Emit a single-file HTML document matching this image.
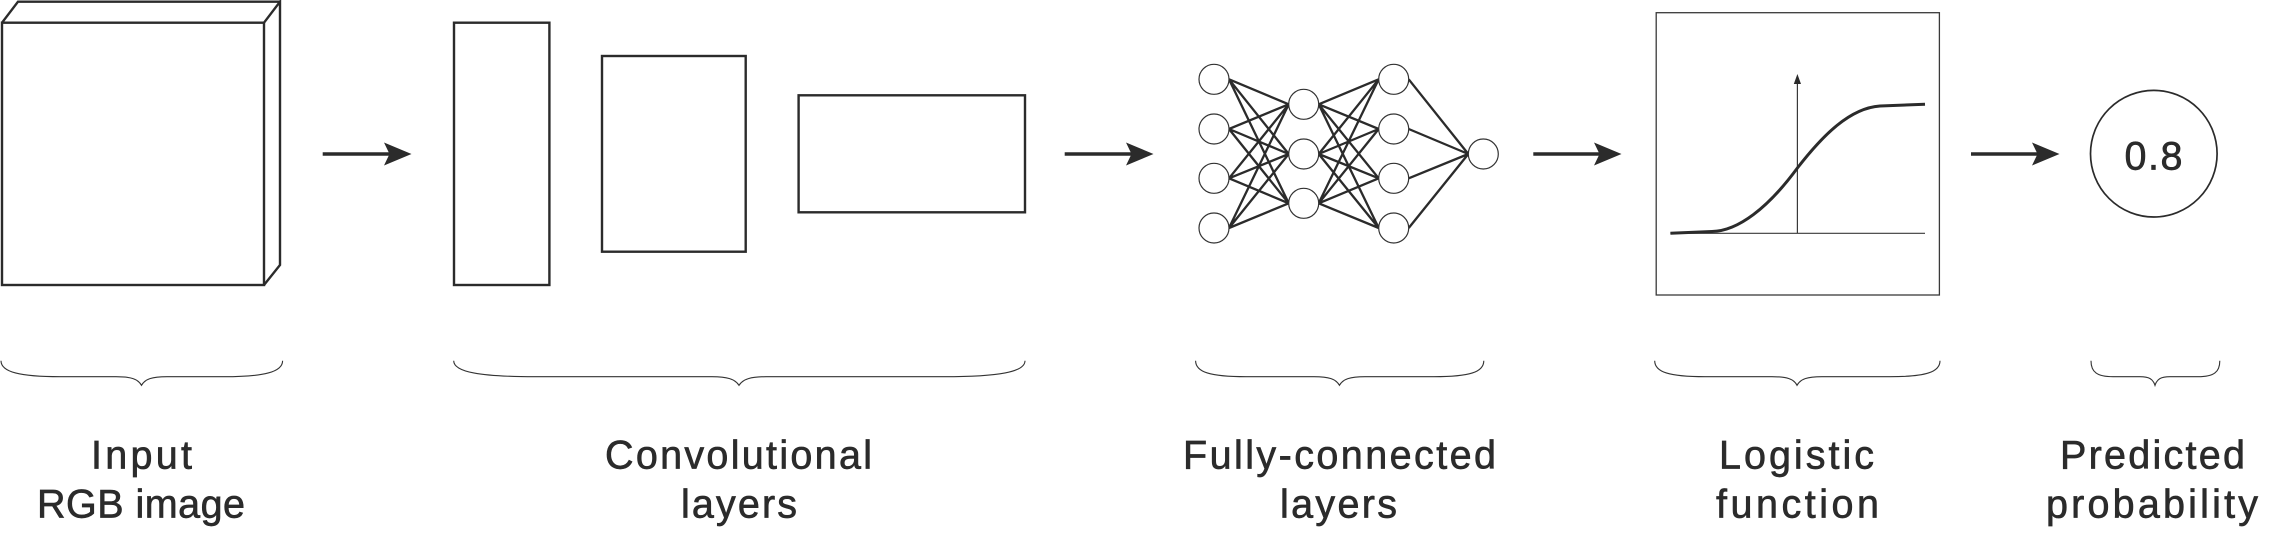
<!DOCTYPE html>
<html>
<head>
<meta charset="utf-8">
<style>
html,body{margin:0;padding:0;background:#fff;width:2276px;height:544px;overflow:hidden}
svg{display:block}
text{font-family:"Liberation Sans",sans-serif;font-size:39.5px;fill:#2b2b2b;stroke:#2b2b2b;stroke-width:.65px}
</style>
</head>
<body>
<svg width="2276" height="544" viewBox="0 0 2276 544" xmlns="http://www.w3.org/2000/svg">
<rect width="2276" height="544" fill="#fff"/>
<!-- input cuboid -->
<g fill="none" stroke="#2b2b2b" stroke-width="2.4">
<rect x="2" y="22.7" width="262" height="262.3"/>
<path d="M2 22.7L18 1.7H280M264 22.7L280 1.7V265L264 285" stroke-linejoin="miter"/>
<rect x="454" y="22.7" width="95.4" height="262.3"/>
<rect x="602" y="56" width="143.7" height="195.7"/>
<rect x="798.6" y="95.3" width="226.4" height="117"/>
</g>
<!-- arrows -->
<g stroke="#2b2b2b" stroke-width="3.4" fill="none">
<path d="M322.7 154H392M1064.7 154H1134M1533.3 154H1602M1971 154H2040"/>
</g>
<g fill="#2b2b2b">
<path d="M384 142.5L411.5 154L384 165.5L389.5 154Z"/>
<path d="M1126 142.5L1153.5 154L1126 165.5L1131.5 154Z"/>
<path d="M1594 142.5L1621.5 154L1594 165.5L1599.5 154Z"/>
<path d="M2032 142.5L2059.5 154L2032 165.5L2037.5 154Z"/>
</g>
<!-- network lines -->
<path fill="none" stroke="#2b2b2b" stroke-width="2.3" d="
M1229 79.3L1288.7 104.3M1229 79.3L1288.7 154M1229 79.3L1288.7 203.3
M1229 129L1288.7 104.3M1229 129L1288.7 154M1229 129L1288.7 203.3
M1229 178.3L1288.7 104.3M1229 178.3L1288.7 154M1229 178.3L1288.7 203.3
M1229 228L1288.7 104.3M1229 228L1288.7 154M1229 228L1288.7 203.3
M1318.7 104.3L1378.7 79.3M1318.7 104.3L1378.7 129M1318.7 104.3L1378.7 178.3M1318.7 104.3L1378.7 228
M1318.7 154L1378.7 79.3M1318.7 154L1378.7 129M1318.7 154L1378.7 178.3M1318.7 154L1378.7 228
M1318.7 203.3L1378.7 79.3M1318.7 203.3L1378.7 129M1318.7 203.3L1378.7 178.3M1318.7 203.3L1378.7 228
M1408.7 79.3L1468.3 154M1408.7 129L1468.3 154M1408.7 178.3L1468.3 154M1408.7 228L1468.3 154"/>
<g fill="#fff" stroke="#333" stroke-width="1.2">
<circle cx="1214" cy="79.3" r="15"/>
<circle cx="1214" cy="129" r="15"/>
<circle cx="1214" cy="178.3" r="15"/>
<circle cx="1214" cy="228" r="15"/>
<circle cx="1303.7" cy="104.3" r="15"/>
<circle cx="1303.7" cy="154" r="15"/>
<circle cx="1303.7" cy="203.3" r="15"/>
<circle cx="1393.7" cy="79.3" r="15"/>
<circle cx="1393.7" cy="129" r="15"/>
<circle cx="1393.7" cy="178.3" r="15"/>
<circle cx="1393.7" cy="228" r="15"/>
<circle cx="1483.3" cy="154" r="15"/>
</g>
<!-- logistic -->
<rect x="1656.2" y="12.7" width="283.2" height="282.3" fill="none" stroke="#3a3a3a" stroke-width="1.3"/>
<path d="M1670.4 233.3H1925M1797.4 233.3V80" fill="none" stroke="#3a3a3a" stroke-width="1.2"/>
<path d="M1797.4 74L1801 84H1793.8Z" fill="#2b2b2b"/>
<path d="M1670.4 233.3L1712 231.5C1738 231 1768 208 1797.4 168C1823 135 1850 108 1880 106L1925 104.3" fill="none" stroke="#2b2b2b" stroke-width="3"/>
<!-- probability -->
<circle cx="2153.8" cy="153.7" r="63.3" fill="#fff" stroke="#2b2b2b" stroke-width="1.7"/>
<text x="2124.5" y="169.3" textLength="58" lengthAdjust="spacing">0.8</text>
<!-- braces -->
<g fill="none" stroke="#333" stroke-width="1.1">
<path d="M1 360.7C1 372 20 376.7 60 376.7H116C131 376.7 138 379 141.5 385.3C145 379 152 376.7 167 376.7H224C264 376.7 282.6 372 282.6 360.7"/>
<path d="M453.7 360.7C453.7 372 480 376.7 535 376.7H712C727 376.7 735 379 739 385.3C743 379 751 376.7 766 376.7H944C999 376.7 1025 372 1025 360.7"/>
<path d="M1195.6 360.7C1195.6 372 1210 376.7 1246 376.7H1314C1329 376.7 1336 379 1339.4 385.3C1343 379 1350 376.7 1365 376.7H1434C1470 376.7 1483.8 372 1483.8 360.7"/>
<path d="M1654.7 360.7C1654.7 372 1669 376.7 1705 376.7H1772C1787 376.7 1794 379 1797 385.3C1800.5 379 1807 376.7 1822 376.7H1890C1926 376.7 1940 372 1940 360.7"/>
<path d="M2091 360.7C2091 372 2097 376.7 2113 376.7H2140C2149 376.7 2153 379 2155 385.3C2157 379 2161 376.7 2170 376.7H2198C2214 376.7 2219.8 372 2219.8 360.7"/>
</g>
<!-- labels -->
<text x="91" y="468.3" textLength="101" lengthAdjust="spacing">Input</text>
<text x="37" y="517.7" textLength="208" lengthAdjust="spacing">RGB image</text>
<text x="605" y="468.3" textLength="267" lengthAdjust="spacing">Convolutional</text>
<text x="681" y="517.7" textLength="116" lengthAdjust="spacing">layers</text>
<text x="1183" y="468.3" textLength="313" lengthAdjust="spacing">Fully-connected</text>
<text x="1280" y="517.7" textLength="117" lengthAdjust="spacing">layers</text>
<text x="1719" y="468.3" textLength="155" lengthAdjust="spacing">Logistic</text>
<text x="1716" y="517.7" textLength="163" lengthAdjust="spacing">function</text>
<text x="2060" y="468.3" textLength="185" lengthAdjust="spacing">Predicted</text>
<text x="2046" y="517.7" textLength="212" lengthAdjust="spacing">probability</text>
</svg>
</body>
</html>
